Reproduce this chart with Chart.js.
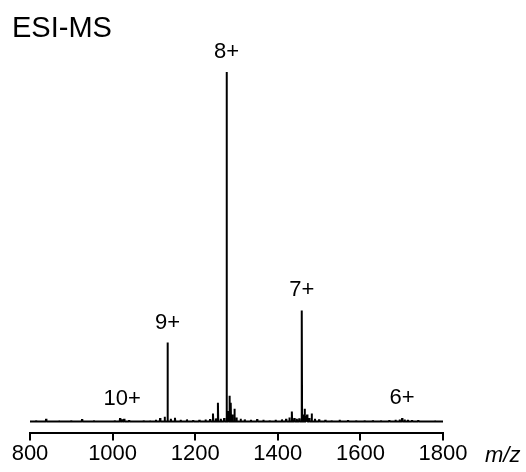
<!DOCTYPE html>
<html>
<head>
<meta charset="utf-8">
<script src="https://cdn.jsdelivr.net/npm/chart.js@4"></script>
<style>
  html, body { margin: 0; padding: 0; background: #fff; }
  #wrap { width: 526px; height: 472px; position: relative; }
</style>
</head>
<body>
<div id="wrap"><canvas id="msChart"></canvas></div>
<script>
// peak positions (m/z) and relative intensities (%)
var peakMz = [815, 839, 870, 900, 926, 955, 985, 1005, 1018, 1023, 1028, 1040, 1060, 1075, 1090, 1105, 1115,
    1126, 1133, 1141, 1151, 1165, 1180, 1195, 1210, 1225, 1236, 1243, 1250, 1255, 1262, 1270, 1276,
    1280, 1283, 1286, 1290, 1295, 1300, 1310, 1320, 1335, 1350, 1365, 1380, 1395, 1410, 1420, 1428,
    1434, 1440, 1446, 1452, 1458, 1462, 1465, 1468, 1471, 1476, 1482, 1490, 1500, 1515, 1530, 1550,
    1570, 1590, 1610, 1630, 1650, 1670, 1685, 1695, 1701, 1707, 1715, 1725, 1740, 1760, 1780];
var peakInt = [0.3, 0.8, 0.3, 0.3, 0.7, 0.3, 0.3, 0.4, 1.0, 0.6, 0.8, 0.4, 0.3, 0.4, 0.3, 0.5, 1.0,
    1.4, 22.6, 0.8, 1.1, 0.5, 0.6, 0.4, 0.5, 0.6, 0.7, 2.3, 0.9, 5.4, 0.8, 1.0, 100,
    3.0, 7.4, 5.4, 2.0, 3.7, 1.2, 0.8, 0.6, 0.5, 0.7, 0.5, 0.4, 0.5, 0.6, 0.8, 1.2,
    2.9, 1.0, 0.8, 0.9, 31.8, 2.0, 3.7, 1.5, 2.0, 1.0, 2.3, 0.8, 0.6, 0.5, 0.4, 0.5,
    0.4, 0.3, 0.4, 0.4, 0.3, 0.4, 0.5, 0.6, 1.0, 0.6, 0.5, 0.4, 0.4, 0.3, 0.3];

var chargeLabels = ["10+", "9+", "8+", "7+", "6+"];
var chargeMz = [1023, 1133, 1276, 1458, 1701];

var xMin = 800, xMax = 1800;
var xStep = 200;

var points = [{ x: xMin, y: 0 }];
for (var i = 0; i < peakMz.length; i++) {
    points.push({ x: peakMz[i] - 0.8, y: 0 });
    points.push({ x: peakMz[i], y: peakInt[i] });
    points.push({ x: peakMz[i] + 0.8, y: 0 });
}
points.push({ x: xMax, y: 0 });

var labelPlugin = {
    id: "msLabels",
    afterDraw: function (chart) {
        var ctx = chart.ctx;
        var xs = chart.scales.x, ys = chart.scales.y;
        ctx.save();
        ctx.fillStyle = "#000";
        ctx.font = "29px 'Liberation Sans', Arial, sans-serif";
        ctx.textAlign = "left";
        ctx.textBaseline = "alphabetic";
        ctx.fillText("ESI-MS", 12, 37);

        ctx.font = "22px 'Liberation Sans', Arial, sans-serif";
        ctx.textAlign = "center";
        for (var i = 0; i < chargeLabels.length; i++) {
            var idx = peakMz.indexOf(chargeMz[i]);
            var top = ys.getPixelForValue(peakInt[idx]);
            ctx.fillText(chargeLabels[i], xs.getPixelForValue(chargeMz[i]), top - 14);
        }

        ctx.font = "italic 22px 'Liberation Sans', Arial, sans-serif";
        ctx.textAlign = "left";
        ctx.fillText("m/z", 485, 462);
        ctx.restore();
    }
};

new Chart(document.getElementById("msChart").getContext("2d"), {
    type: "line",
    data: {
        datasets: [{
            data: points,
            borderColor: "#000",
            borderWidth: 2,
            borderJoinStyle: "bevel",
            pointRadius: 0,
            tension: 0,
            fill: false
        }]
    },
    options: {
        responsive: true,
        maintainAspectRatio: false,
        animation: false,
        layout: { padding: { top: 60, left: 30, right: 83, bottom: 5 } },
        plugins: { legend: { display: false }, tooltip: { enabled: false } },
        scales: {
            x: {
                type: "linear",
                min: xMin,
                max: xMax,
                ticks: {
                    stepSize: xStep,
                    color: "#000",
                    padding: 0,
                    maxRotation: 0,
                    font: { family: "'Liberation Sans', Arial, sans-serif", size: 22 },
                    callback: function (v) { return String(v); }
                },
                grid: { drawOnChartArea: false, drawTicks: true, tickLength: 8, color: "#000", lineWidth: 2 },
                border: { display: true, color: "#000", width: 2 }
            },
            y: {
                display: false,
                min: -3.15,
                max: 103.4
            }
        }
    },
    plugins: [labelPlugin]
});
</script>
</body>
</html>
